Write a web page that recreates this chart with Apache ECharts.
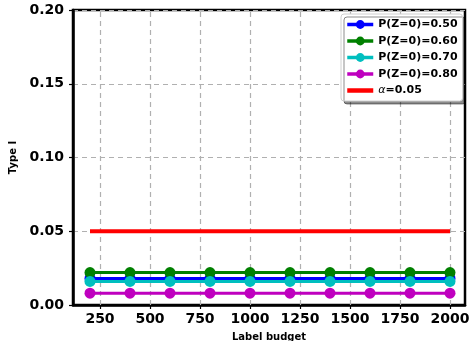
<!DOCTYPE html>
<html><head><meta charset="utf-8">
<script src="https://cdn.jsdelivr.net/npm/echarts@6/dist/echarts.min.js"></script>
<style>html,body{margin:0;padding:0;background:#fff}#c{width:469px;height:341px}</style>
</head><body><div id="c"></div>
<script>
const budgets = [200, 400, 600, 800, 1000, 1200, 1400, 1600, 1800, 2000];
const p050 = [0.018, 0.018, 0.018, 0.018, 0.018, 0.018, 0.018, 0.018, 0.018, 0.018];
const p060 = [0.022, 0.022, 0.022, 0.022, 0.022, 0.022, 0.022, 0.022, 0.022, 0.022];
const p070 = [0.016, 0.016, 0.016, 0.016, 0.016, 0.016, 0.016, 0.016, 0.016, 0.016];
const p080 = [0.008, 0.008, 0.008, 0.008, 0.008, 0.008, 0.008, 0.008, 0.008, 0.008];
const alphaX = [200, 2000];
const alphaY = [0.05, 0.05];
const xTicks = [250, 500, 750, 1000, 1250, 1500, 1750, 2000];
const names = ['P(Z=0)=0.50', 'P(Z=0)=0.60', 'P(Z=0)=0.70', 'P(Z=0)=0.80'];
const colors = ['#0000ff', '#008000', '#00bfbf', '#bf00bf'];

const F = 'DejaVu Sans';
const pair = (xs, ys) => xs.map((x, i) => [x, ys[i]]);
const vals = [p050, p060, p070, p080];
const series = vals.map((v, i) => ({
  name: names[i], type: 'line', data: pair(budgets, v),
  symbol: 'circle', symbolSize: 11, showSymbol: true,
  lineStyle: {width: 3, color: colors[i]}, itemStyle: {color: colors[i]},
  z: 3 + i, animation: false
}));
series.push({
  name: 'alpha', type: 'line', data: pair(alphaX, alphaY), symbol: 'none',
  lineStyle: {width: 4, color: '#ff0000'}, itemStyle: {color: '#ff0000'}, z: 10, animation: false
});
// grid lines via markLine from tick arrays
series.push({
  type: 'line', data: [], silent: true, animation: false, z: 1,
  markLine: {symbol: 'none', silent: true, label: {show: false}, z: 1,
    lineStyle: {color: '#b0b0b0', type: [5, 4], width: 1.2},
    data: xTicks.map(t => ({xAxis: t}))}
});

const chart = echarts.init(document.getElementById('c'));
chart.setOption({
  animation: false,
  grid: {left: 73, right: 4, top: 10, bottom: 36, outerBoundsMode: 'none', containLabel: false,
    show: true, borderColor: '#000', borderWidth: 2.5, backgroundColor: 'transparent'},
  xAxis: {
    type: 'value', min: 115, max: 2075,
    name: 'Label budget', nameLocation: 'middle', nameGap: 27,
    nameTextStyle: {fontFamily: F, fontWeight: 'bold', fontSize: 10, color: '#000'},
    axisLine: {show: true, onZero: false, lineStyle: {color: '#000', width: 2.5}},
    axisTick: {show: true, customValues: xTicks, length: 4, lineStyle: {color: '#000', width: 1.2}},
    axisLabel: {customValues: xTicks, formatter: v => String(v), fontFamily: F, fontWeight: 'bold', fontSize: 14, color: '#000', margin: 7},
    splitLine: {show: false}
  },
  yAxis: {
    type: 'value', min: 0, max: 0.2, interval: 0.05,
    name: 'Type I', nameLocation: 'middle', nameGap: 53,
    nameTextStyle: {fontFamily: F, fontWeight: 'bold', fontSize: 10, color: '#000'},
    axisLine: {show: true, lineStyle: {color: '#000', width: 2.5}},
    axisTick: {show: true, length: 4, lineStyle: {color: '#000', width: 1.2}},
    axisLabel: {formatter: v => v.toFixed(2), fontFamily: F, fontWeight: 'bold', fontSize: 14, color: '#000', margin: 9},
    splitLine: {show: true, lineStyle: {color: '#b0b0b0', type: [5, 4], width: 1.2}}
  },
  legend: {
    orient: 'vertical', left: 341, top: 14, width: 120, z: 30,
    padding: [5, 5, 5, 4], itemGap: 5.5, itemWidth: 26, itemHeight: 11,
    backgroundColor: '#fff', borderColor: '#d0d0d0', borderWidth: 1, borderRadius: 3,
    shadowColor: 'rgba(0,0,0,0.45)', shadowBlur: 0, shadowOffsetX: 3, shadowOffsetY: 3,
    lineStyle: {width: 3.5},
    data: names.concat([{name: 'alpha', itemStyle: {opacity: 0}, lineStyle: {width: 4.5, opacity: 1}}]),
    formatter: n => n === 'alpha' ? '{a|α}{b|=0.05}' : n,
    textStyle: {fontFamily: F, fontWeight: 'bold', fontSize: 11, color: '#000',
      rich: {a: {fontFamily: F, fontStyle: 'italic', fontWeight: 'normal', fontSize: 11, color: '#000'},
             b: {fontFamily: F, fontWeight: 'bold', fontSize: 11, color: '#000'}}}
  },
  series: series
});
</script></body></html>
